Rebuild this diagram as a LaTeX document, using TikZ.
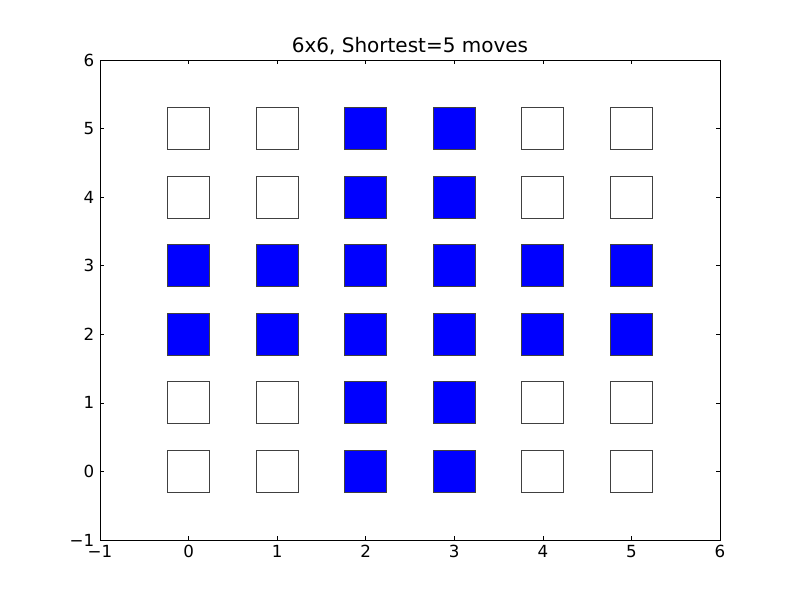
\documentclass[tikz,border=0pt]{standalone}
\usepackage{fontspec}
\setmainfont{DejaVu Sans}
\definecolor{edgegray}{HTML}{404040}
\begin{document}
\begin{tikzpicture}[x=1pt,y=-1pt,
  sq/.style={draw=edgegray,line width=0.8pt,minimum size=42pt,inner sep=0pt,fill=white},
  bsq/.style={sq,fill=blue},
  ticklab/.style={font=\fontsize{16.67}{19}\selectfont,inner sep=0pt},
  tick/.style={line width=0.6pt,black}]
\useasboundingbox[fill=white] (0,0) rectangle (800,600);
% frame
\coordinate (tl) at (100,60);
\coordinate (br) at (720,540);
\draw[line width=1pt] (tl) rectangle (br);
% squares
\foreach \i in {0,...,5}{
  \foreach \j in {0,...,5}{
    \pgfmathsetmacro{\px}{100+(\i+1)*620/7}
    \pgfmathsetmacro{\py}{540-(\j+1)*480/7}
    \pgfmathtruncatemacro{\isb}{(\i==2 || \i==3 || \j==2 || \j==3) ? 1 : 0}
    \ifnum\isb=1
      \node[bsq] (s\i\j) at (\px,\py) {};
    \else
      \node[sq] (s\i\j) at (\px,\py) {};
    \fi
  }
}
% ticks and labels
\foreach \v/\t in {-1/{−1},0/0,1/1,2/2,3/3,4/4,5/5,6/6}{
  \pgfmathsetmacro{\px}{100+(\v+1)*620/7}
  \pgfmathsetmacro{\py}{540-(\v+1)*480/7}
  \draw[tick] (\px,540) -- (\px,536);
  \draw[tick] (\px,60) -- (\px,64);
  \draw[tick] (100,\py) -- (104,\py);
  \draw[tick] (720,\py) -- (716,\py);
  \node[ticklab,anchor=north] (xl\v) at (\px,545) {\t};
  \node[ticklab,anchor=east] (yl\v) at (94.5,\py) {\t};
}
\node[font=\fontsize{20}{24}\selectfont,anchor=base,inner sep=0pt] (title) at (410,52) {6x6, Shortest=5 moves};
\end{tikzpicture}
\end{document}
